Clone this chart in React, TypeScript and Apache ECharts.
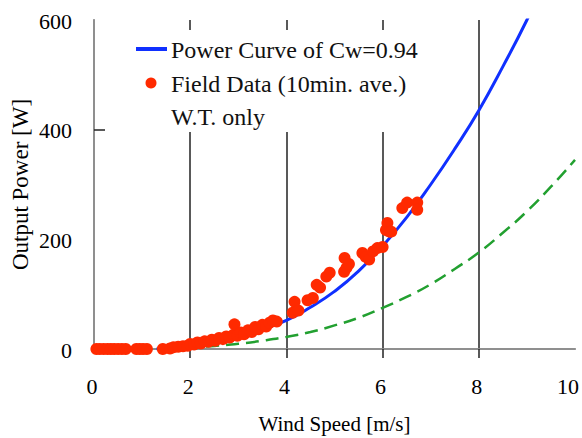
import React, { useEffect, useRef } from "react";
import * as echarts from "echarts";

const xTicks = [0, 2, 4, 6, 8, 10];
const yTicks = [0, 200, 400, 600];
const xTitle = "Wind Speed [m/s]";
const yTitle = "Output Power [W]";
const legendTexts = ["Power Curve of Cw=0.94", "Field Data (10min. ave.)", "W.T. only"];

// Power curve of Cw=0.94
const curveV = [1.3, 1.6, 2, 2.5, 3, 3.5, 4, 4.5, 5, 5.5, 6, 6.5, 7, 7.5, 8, 8.5, 9, 9.2];
const curveP = [0, 2, 6, 12, 22, 36, 52, 76, 105, 142, 188, 240, 300, 365, 435, 515, 600, 640];

// W.T. only (green dashed)
const wtV = [1.5, 2, 2.5, 3, 3.5, 4, 4.5, 5, 5.5, 6, 6.5, 7, 7.5, 8, 8.5, 9, 9.5, 10];
const wtP = [0, 2.5, 5.5, 9.5, 15, 22, 31, 43, 57, 75, 95, 118, 146, 176, 212, 251, 296, 345];

// Field data (10 min. ave.)
const fieldV = [
  0.05, 0.12, 0.2, 0.28, 0.35, 0.42, 0.5, 0.58, 0.66, 0.88, 0.95, 1.02, 1.1, 1.43,
  1.58, 1.65, 1.75, 1.85, 1.95, 2.0, 2.08, 2.15, 2.22, 2.3, 2.38, 2.45, 2.52, 2.6,
  2.68, 2.75, 2.82, 2.9, 2.92, 2.98, 3.05, 3.12, 3.2, 3.28, 3.35, 3.42, 3.5, 3.58,
  3.65, 3.72, 3.8, 4.13, 4.17, 4.25, 4.44, 4.55, 4.63, 4.7, 4.83, 4.9, 5.2, 5.21,
  5.25, 5.3, 5.58, 5.65, 5.72, 5.8, 5.89, 6.0, 6.07, 6.1, 6.14, 6.18, 6.41, 6.51,
  6.72, 6.72,
];
const fieldP = [
  0, 0, 0, 0, 0, 0, 0, 0, 0, 0, 0, 0, 0, 0,
  1, 3, 4, 5, 6, 9, 8, 12, 10, 14, 13, 17, 15, 20,
  18, 23, 21, 26, 45, 24, 30, 27, 34, 31, 40, 36, 44, 41,
  48, 52, 50, 66, 86, 70, 89, 93, 117, 112, 132, 139, 141, 166,
  148, 155, 175, 168, 163, 178, 184, 186, 217, 230, 214, 214, 257, 267,
  267, 254,
];

const SERIF = "Liberation Serif";

export default function App() {
  const ref = useRef<HTMLDivElement>(null);
  useEffect(() => {
    if (!ref.current) return;
    const chart = echarts.init(ref.current, null, { renderer: "svg" });
    const gridLine = { show: true, showMinLine: false, showMaxLine: false, lineStyle: { color: "#222", width: 1.5 } };
    chart.setOption({
      animation: false,
      backgroundColor: "#fff",
      grid: { left: 94, right: 7, top: 20, bottom: 89, containLabel: false },
      xAxis: [
        {
          type: "value",
          position: "bottom",
          min: xTicks[0],
          max: xTicks[xTicks.length - 1],
          interval: 2,
          axisLine: { lineStyle: { color: "#000", width: 1.5 } },
          axisTick: { show: false },
          axisLabel: { show: false },
          splitLine: gridLine,
        },
        {
          type: "value",
          position: "top",
          min: xTicks[0],
          max: xTicks[xTicks.length - 1],
          interval: 2,
          axisLine: { show: true, lineStyle: { color: "#aaa", width: 1.5 } },
          axisTick: { show: true, inside: true, length: 9, customValues: [2, 4, 6, 8], lineStyle: { color: "#222", width: 1.5 } },
          axisLabel: { show: false },
          splitLine: { show: false },
        },
      ],
      yAxis: [
        {
          type: "value",
          position: "left",
          min: yTicks[0],
          max: yTicks[yTicks.length - 1],
          interval: 200,
          axisLine: { show: true, lineStyle: { color: "#000", width: 1.5 } },
          axisTick: { show: true, inside: true, length: 11, customValues: [400], lineStyle: { color: "#222", width: 1.5 } },
          axisLabel: { show: false },
          splitLine: gridLine,
        },
        {
          type: "value",
          position: "right",
          min: yTicks[0],
          max: yTicks[yTicks.length - 1],
          interval: 200,
          axisLine: { show: true, lineStyle: { color: "#aaa", width: 1.5 } },
          axisTick: { show: false },
          axisLabel: { show: false },
          splitLine: { show: false },
        },
      ],
      series: [
        {
          type: "line",
          name: legendTexts[2],
          data: wtV.map((v, i) => [v, wtP[i]]),
          smooth: true,
          showSymbol: false,
          clip: true,
          lineStyle: { color: "#22a030", width: 2.5, type: [13, 7] },
          z: 3,
        },
        {
          type: "line",
          name: legendTexts[0],
          data: curveV.map((v, i) => [v, curveP[i]]),
          smooth: true,
          showSymbol: false,
          clip: true,
          lineStyle: { color: "#1030ff", width: 3 },
          z: 3,
        },
        {
          type: "scatter",
          name: legendTexts[1],
          data: fieldV.map((v, i) => [v, fieldP[i]]),
          symbol: "circle",
          symbolSize: 12,
          itemStyle: { color: "#ff2a00", opacity: 1 },
          z: 4,
        },
      ],
    });

    // Tick labels and axis titles placed with the chart's own scales
    const x0 = chart.convertToPixel({ xAxisIndex: 0 }, xTicks[0]) as number;
    const x1 = chart.convertToPixel({ xAxisIndex: 0 }, xTicks[xTicks.length - 1]) as number;
    const y0 = chart.convertToPixel({ yAxisIndex: 0 }, yTicks[0]) as number;
    const y1 = chart.convertToPixel({ yAxisIndex: 0 }, yTicks[yTicks.length - 1]) as number;
    const labelFont = `22px ${SERIF}`;
    const elements: any[] = [
      { type: "rect", z: 1, shape: { x: 106, y: 30, width: 342, height: 102 }, style: { fill: "#fff" } },
      { type: "line", z: 5, shape: { x1: 136, y1: 49, x2: 167, y2: 49 }, style: { stroke: "#1030ff", lineWidth: 4 } },
      { type: "text", z: 5, x: 171, y: 50, style: { text: legendTexts[0], font: `24px ${SERIF}`, fill: "#111", verticalAlign: "middle" } },
      { type: "circle", z: 5, shape: { cx: 151, cy: 83, r: 5.5 }, style: { fill: "#ff2a00" } },
      { type: "text", z: 5, x: 171, y: 84, style: { text: legendTexts[1], font: `24px ${SERIF}`, fill: "#111", verticalAlign: "middle" } },
      { type: "text", z: 5, x: 171, y: 117, style: { text: legendTexts[2], font: `24px ${SERIF}`, fill: "#111", verticalAlign: "middle" } },
    ];
    xTicks.forEach((v) => {
      const px = chart.convertToPixel({ xAxisIndex: 0 }, v) as number;
      const cx = Math.min(px - 2, 568);
      elements.push({ type: "text", z: 5, x: cx, y: y0 + 37, style: { text: String(v), font: labelFont, fill: "#000", align: "center", verticalAlign: "middle" } });
    });
    yTicks.forEach((v) => {
      const py = chart.convertToPixel({ yAxisIndex: 0 }, v) as number;
      elements.push({ type: "text", z: 5, x: x0 - 22, y: py + 1, style: { text: String(v), font: labelFont, fill: "#000", align: "right", verticalAlign: "middle" } });
    });
    elements.push({ type: "text", z: 5, x: (x0 + x1) / 2, y: y0 + 75, style: { text: xTitle, font: `21px ${SERIF}`, fill: "#000", align: "center", verticalAlign: "middle" } });
    elements.push({ type: "text", z: 5, x: 20, y: (y0 + y1) / 2, rotation: Math.PI / 2, style: { text: yTitle, font: `23px ${SERIF}`, fill: "#000", align: "center", verticalAlign: "middle" } });
    chart.setOption({ graphic: { elements } });

    return () => chart.dispose();
  }, []);
  return <div ref={ref} style={{ position: "fixed", left: 0, top: 0, width: 582, height: 438 }} />;
}
